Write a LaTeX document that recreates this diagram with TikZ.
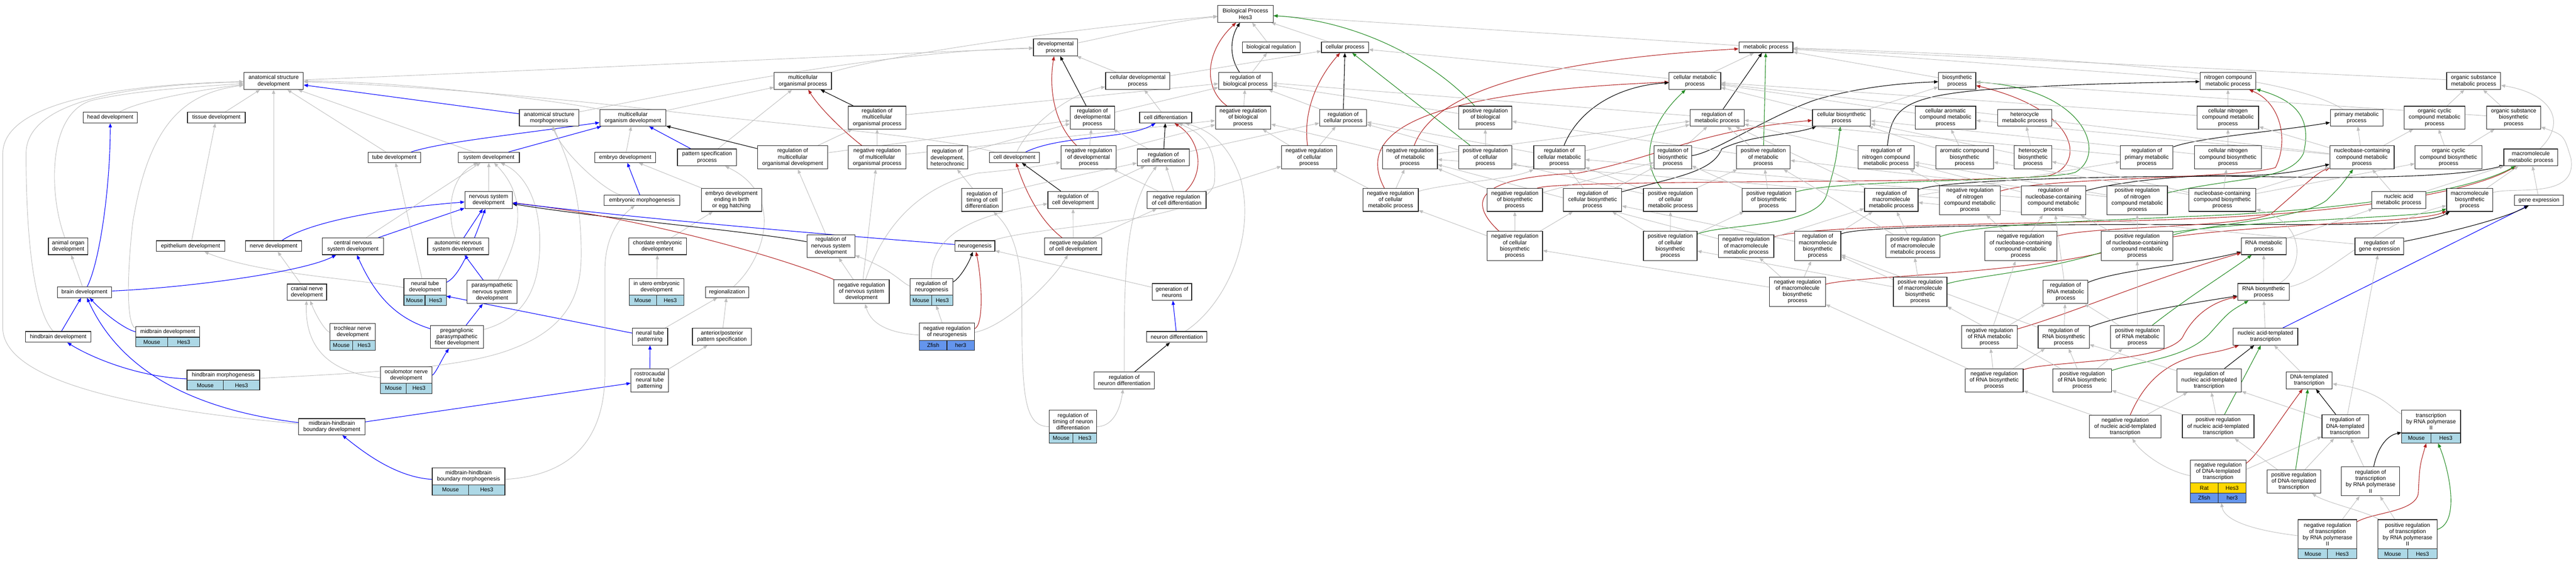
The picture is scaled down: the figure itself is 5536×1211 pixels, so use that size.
\documentclass[tikz,border=0pt]{standalone}
\usepackage{fontspec}
\setmainfont{Liberation Sans}
\usetikzlibrary{arrows.meta}
\definecolor{eg}{RGB}{190,190,190}
\definecolor{nrc}{RGB}{178,34,34}
\definecolor{prc}{RGB}{34,139,34}
\definecolor{lb}{RGB}{173,216,230}
\definecolor{cf}{RGB}{100,149,237}
\definecolor{gd}{RGB}{255,215,0}
\pgfdeclarelayer{bg}
\pgfsetlayers{bg,main}
\tikzset{
 box/.style={draw=black!85,fill=white,line width=1.3pt,align=center,inner sep=1.5pt,font=\fontsize{12}{13.5}\selectfont},
 cell/.style={draw=black!85,line width=1.3pt,inner sep=0pt,font=\fontsize{12}{13.5}\selectfont},
 tip/.style={-{Triangle[length=9pt,width=7pt]}},
 isa/.style={tip,draw=eg,line width=1pt},
 prt/.style={tip,draw=blue,line width=1.2pt},
 rgl/.style={tip,draw=black,line width=1.2pt},
 ngr/.style={tip,draw=nrc,line width=1.2pt},
 pgr/.style={tip,draw=prc,line width=1.2pt}
}
\newcommand\NB[6]{\node[box,minimum width={#4-#2},minimum height={#5-#3}] (#1) at ({(#2+#4)/2},{(#3+#5)/2}) {#6};}
\newcommand\NC[6]{\node[cell,fill=#5,minimum width={#3-#1},minimum height={#4-#2}] at ({(#1+#3)/2},{(#2+#4)/2}) {#6};}
\newcommand\NF[5]{\node[inner sep=0pt,outer sep=0pt,minimum width={#4-#2},minimum height={#5-#3}] (#1) at ({(#2+#4)/2},{(#3+#5)/2}) {};}
\newcommand\NT[7]{\NB{#1t}{#2}{#3}{#5}{#4}{#7}\NC{#2}{#4}{(#2+#5)/2}{#6}{lb}{Mouse}\NC{(#2+#5)/2}{#4}{#5}{#6}{lb}{Hes3}\NF{#1}{#2}{#3}{#5}{#6}}
\newcommand\ED[3]{\draw[#1] (#2) -- (#3);}
\begin{document}
\begin{tikzpicture}[x=1pt,y=-1pt]
\path[use as bounding box] (0,0) rectangle (5536,1211);
% ---------- nodes: left
\NB{asd}{524}{156}{652}{192}{anatomical structure\\development}
\NB{headdev}{179}{241}{295}{264}{head development}
\NB{tissdev}{403}{241}{527}{264}{tissue development}
\NB{tubedev}{791}{327}{904}{349}{tube development}
\NB{aodev}{104}{511}{189}{547}{animal organ\\development}
\NB{epidev}{336}{517}{483}{540}{epithelium development}
\NB{nervedev}{528}{517}{648}{540}{nerve development}
\NB{cnsdev}{693}{511}{824}{547}{central nervous\\system development}
\NB{braindev}{123}{616}{240}{639}{brain development}
\NB{hbdev}{55}{712}{195}{735}{hindbrain development}
\NT{mbdev}{292}{701}{724}{429}{745}{midbrain development}
\NT{hbmorph}{402}{795}{817}{558}{838}{hindbrain morphogenesis}
\NB{cndev}{617}{610}{702}{645}{cranial nerve\\development}
\NT{trochdev}{709}{695}{731}{807}{752}{trochlear nerve\\development}
\NT{oculdev}{818}{788}{823}{928}{845}{oculomotor nerve\\development}
\NB{mhbdev}{642}{899}{784}{934}{midbrain-hindbrain\\boundary development}
\NT{ntdev}{868}{598}{634}{959}{656}{neural tube\\development}
\NB{mop}{1664}{156}{1787}{192}{multicellular\\organismal process}
\NB{asm}{1116}{235}{1244}{271}{anatomical structure\\morphogenesis}
\NB{mod}{1289}{235}{1431}{271}{multicellular\\organism development}
\NB{sysdev}{985}{327}{1116}{349}{system development}
\NB{embdev}{1278}{327}{1409}{349}{embryo development}
\NB{psp}{1456}{320}{1583}{356}{pattern specification\\process}
\NB{regmod}{1628}{313}{1779}{363}{regulation of\\multicellular\\organismal development}
\NB{nsd}{999}{411}{1101}{448}{nervous system\\development}
\NB{embmorph}{1298}{419}{1461}{441}{embryonic morphogenesis}
\NB{edebh}{1507}{405}{1637}{454}{embryo development\\ending in birth\\or egg hatching}
\NB{ansdev}{919}{511}{1050}{547}{autonomic nervous\\system development}
\NB{chordev}{1351}{511}{1475}{547}{chordate embryonic\\development}
\NB{regnsd}{1734}{504}{1837}{553}{regulation of\\nervous system\\development}
\NB{psnsd}{1004}{602}{1111}{652}{parasympathetic\\nervous system\\development}
\NT{iued}{1352}{598}{634}{1470}{656}{in utero embryonic\\development}
\NB{regionz}{1516}{616}{1609}{639}{regionalization}
\NB{nrnsd}{1792}{601}{1911}{652}{negative regulation\\of nervous system\\development}
\NB{ppfd}{925}{699}{1039}{748}{preganglionic\\parasympathetic\\fiber development}
\NB{ntpat}{1359}{705}{1435}{741}{neural tube\\patterning}
\NB{appsp}{1488}{705}{1615}{741}{anterior/posterior\\pattern specification}
\NB{rntp}{1356}{792}{1437}{842}{rostrocaudal\\neural tube\\patterning}
\NT{mhbmorph}{929}{1005}{1041}{1085}{1063}{midbrain-hindbrain\\boundary morphogenesis}
% ---------- nodes: center
\NB{bp}{2617}{12}{2736}{48}{Biological Process\\Hes3}
\NB{devproc}{2221}{84}{2316}{120}{developmental\\process}
\NB{bioreg}{2670}{90}{2794}{113}{biological regulation}
\NB{cdp}{2376}{156}{2514}{192}{cellular developmental\\process}
\NB{rbp}{2619}{156}{2734}{192}{regulation of\\biological process}
\NB{rmop}{1823}{228}{1947}{277}{regulation of\\multicellular\\organismal process}
\NB{rdp}{2300}{228}{2395}{277}{regulation of\\developmental\\process}
\NB{celldiff}{2449}{241}{2561}{264}{cell differentiation}
\NB{nrbp}{2612}{228}{2731}{277}{negative regulation\\of biological\\process}
\NB{nrmop}{1823}{313}{1947}{363}{negative regulation\\of multicellular\\organismal process}
\NB{rdh}{1992}{313}{2080}{363}{regulation of\\development,\\heterochronic}
\NB{celldev}{2126}{327}{2234}{349}{cell development}
\NB{nrdp}{2280}{313}{2399}{363}{negative regulation\\of developmental\\process}
\NB{rcd}{2444}{320}{2556}{356}{regulation of\\cell differentiation}
\NB{rtcd}{2067}{405}{2154}{454}{regulation of\\timing of cell\\differentiation}
\NB{rcdev}{2252}{411}{2360}{448}{regulation of\\cell development}
\NB{nrcd}{2465}{411}{2592}{448}{negative regulation\\of cell differentiation}
\NB{neurog}{2052}{517}{2138}{540}{neurogenesis}
\NB{nrcdev}{2245}{511}{2368}{547}{negative regulation\\of cell development}
\NT{rneurog}{1956}{598}{634}{2048}{656}{regulation of\\neurogenesis}
\NB{genneur}{2476}{609}{2561}{645}{generation of\\neurons}
\NB{nrneurogt}{1976}{694}{2094}{731}{negative regulation\\of neurogenesis}
\NC{1976}{731}{2035}{752}{cf}{Zfish}
\NC{2035}{731}{2094}{752}{cf}{her3}
\NF{nrneurog}{1976}{694}{2094}{752}
\NB{neurdiff}{2464}{712}{2594}{735}{neuron differentiation}
\NB{rnd}{2351}{799}{2481}{835}{regulation of\\neuron differentiation}
\NT{rtnd}{2255}{881}{930}{2357}{952}{regulation of\\timing of neuron\\differentiation}
% ---------- nodes: metabolic
\NB{cellproc}{2840}{90}{2941}{113}{cellular process}
\NB{cmp}{3587}{156}{3698}{192}{cellular metabolic\\process}
\NB{rcp}{2836}{235}{2937}{271}{regulation of\\cellular process}
\NB{prbp}{3135}{228}{3249}{277}{positive regulation\\of biological\\process}
\NB{rmp}{3632}{235}{3748}{271}{regulation of\\metabolic process}
\NB{nrcp}{2754}{313}{2873}{363}{negative regulation\\of cellular\\process}
\NB{nrmp}{2971}{313}{3089}{363}{negative regulation\\of metabolic\\process}
\NB{prcp}{3135}{313}{3249}{363}{positive regulation\\of cellular\\process}
\NB{rcmp}{3296}{313}{3406}{363}{regulation of\\cellular metabolic\\process}
\NB{rbsp}{3555}{313}{3635}{363}{regulation of\\biosynthetic\\process}
\NB{nrcmp}{2929}{405}{3048}{454}{negative regulation\\of cellular\\metabolic process}
\NB{nrbsp}{3196}{405}{3315}{454}{negative regulation\\of biosynthetic\\process}
\NB{rcbsp}{3360}{405}{3485}{454}{regulation of\\cellular biosynthetic\\process}
\NB{prcmp}{3532}{405}{3648}{454}{positive regulation\\of cellular\\metabolic process}
\NB{nrcbsp}{3196}{497}{3315}{560}{negative regulation\\of cellular\\biosynthetic\\process}
\NB{prcbsp}{3532}{497}{3647}{560}{positive regulation\\of cellular\\biosynthetic\\process}
\NB{metproc}{3737}{90}{3853}{113}{metabolic process}
\NB{bsp}{4166}{156}{4246}{192}{biosynthetic\\process}
\NB{cbsp}{3895}{235}{4020}{271}{cellular biosynthetic\\process}
\NB{cacmp}{4116}{228}{4246}{277}{cellular aromatic\\compound metabolic\\process}
\NB{hetmp}{4293}{235}{4409}{271}{heterocycle\\metabolic process}
\NB{prmp}{3732}{313}{3847}{363}{positive regulation\\of metabolic\\process}
\NB{rncmp}{3993}{313}{4114}{363}{regulation of\\nitrogen compound\\metabolic process}
\NB{acbsp}{4160}{313}{4284}{363}{aromatic compound\\biosynthetic\\process}
\NB{hetbsp}{4329}{313}{4409}{363}{heterocycle\\biosynthetic\\process}
\NB{rpmp}{4557}{313}{4670}{363}{regulation of\\primary metabolic\\process}
\NB{prbsp}{3744}{405}{3859}{454}{positive regulation\\of biosynthetic\\process}
\NB{rmmp}{4007}{405}{4122}{454}{regulation of\\macromolecule\\metabolic process}
\NB{nrncmp}{4168}{399}{4299}{461}{negative regulation\\of nitrogen\\compound metabolic\\process}
\NB{rnbcmp}{4344}{399}{4482}{461}{regulation of\\nucleobase-containing\\compound metabolic\\process}
\NB{prncmp}{4528}{399}{4658}{461}{positive regulation\\of nitrogen\\compound metabolic\\process}
\NB{nrmmp}{3693}{504}{3812}{553}{negative regulation\\of macromolecule\\metabolic process}
\NB{rmbsp}{3857}{497}{3956}{560}{regulation of\\macromolecule\\biosynthetic\\process}
\NB{prmmp}{4053}{504}{4169}{553}{positive regulation\\of macromolecule\\metabolic process}
\NB{nrnbcmp}{4265}{497}{4420}{560}{negative regulation\\of nucleobase-containing\\compound metabolic\\process}
\NB{prnbcmp}{4516}{497}{4670}{560}{positive regulation\\of nucleobase-containing\\compound metabolic\\process}
\NB{nrmbsp}{3803}{595}{3923}{658}{negative regulation\\of macromolecule\\biosynthetic\\process}
\NB{prmbsp}{4069}{595}{4184}{658}{positive regulation\\of macromolecule\\biosynthetic\\process}
\NB{rrnamp}{4391}{602}{4487}{652}{regulation of\\RNA metabolic\\process}
\NB{nrrnamp}{4216}{699}{4335}{748}{negative regulation\\of RNA metabolic\\process}
\NB{rrnabsp}{4380}{699}{4490}{748}{regulation of\\RNA biosynthetic\\process}
\NB{prrnamp}{4536}{699}{4651}{748}{positive regulation\\of RNA metabolic\\process}
\NB{nrrnabsp}{4223}{792}{4348}{842}{negative regulation\\of RNA biosynthetic\\process}
\NB{prrnabsp}{4412}{792}{4538}{842}{positive regulation\\of RNA biosynthetic\\process}
\NB{nrnatt}{4490}{892}{4644}{941}{negative regulation\\of nucleic acid-templated\\transcription}
\NB{ncmp}{4728}{156}{4848}{192}{nitrogen compound\\metabolic process}
\NB{osmp}{5258}{156}{5374}{192}{organic substance\\metabolic process}
\NB{cncmp}{4722}{228}{4854}{277}{cellular nitrogen\\compound metabolic\\process}
\NB{pmp}{5008}{235}{5121}{271}{primary metabolic\\process}
\NB{occmp}{5167}{228}{5297}{277}{organic cyclic\\compound metabolic\\process}
\NB{osbsp}{5344}{228}{5460}{277}{organic substance\\biosynthetic\\process}
\NB{cncbsp}{4716}{313}{4860}{363}{cellular nitrogen\\compound biosynthetic\\process}
\NB{nbcmp}{5007}{313}{5145}{363}{nucleobase-containing\\compound metabolic\\process}
\NB{occbsp}{5190}{313}{5334}{363}{organic cyclic\\compound biosynthetic\\process}
\NB{mmp}{5381}{320}{5497}{356}{macromolecule\\metabolic process}
\NB{nbcbsp}{4704}{405}{4848}{454}{nucleobase-containing\\compound biosynthetic\\process}
\NB{namp}{5097}{411}{5213}{448}{nucleic acid\\metabolic process}
\NB{mbsp}{5258}{405}{5357}{454}{macromolecule\\biosynthetic\\process}
\NB{geneexp}{5404}{419}{5509}{441}{gene expression}
\NB{rnamp}{4817}{511}{4913}{547}{RNA metabolic\\process}
\NB{rgeneexp}{5061}{511}{5166}{547}{regulation of\\gene expression}
\NB{rnabsp}{4809}{609}{4920}{645}{RNA biosynthetic\\process}
\NB{natt}{4799}{705}{4938}{741}{nucleic acid-templated\\transcription}
\NB{rnatt}{4678}{792}{4817}{842}{regulation of\\nucleic acid-templated\\transcription}
\NB{dtt}{4913}{799}{5012}{835}{DNA-templated\\transcription}
\NB{prnatt}{4690}{891}{4844}{941}{positive regulation\\of nucleic acid-templated\\transcription}
\NB{rdtt}{4990}{891}{5090}{941}{regulation of\\DNA-templated\\transcription}
\NT{trp2}{5161}{881}{930}{5288}{952}{transcription\\by RNA polymerase\\II}
\NB{nrdttt}{4707}{988}{4827}{1037}{negative regulation\\of DNA-templated\\transcription}
\NC{4707}{1037}{4767}{1059}{gd}{Rat}
\NC{4767}{1037}{4827}{1059}{gd}{Hes3}
\NC{4707}{1059}{4767}{1080}{cf}{Zfish}
\NC{4767}{1059}{4827}{1080}{cf}{her3}
\NF{nrdtt}{4707}{988}{4827}{1080}
\NB{prdtt}{4872}{1009}{4987}{1059}{positive regulation\\of DNA-templated\\transcription}
\NB{rtrp2}{5032}{1003}{5157}{1065}{regulation of\\transcription\\by RNA polymerase\\II}
\NT{nrtrp2}{4939}{1116}{1179}{5065}{1200}{negative regulation\\of transcription\\by RNA polymerase\\II}
\NT{prtrp2}{5110}{1116}{1179}{5238}{1200}{positive regulation\\of transcription\\by RNA polymerase\\II}
% ---------- edges
\begin{pgfonlayer}{bg}
\fill[white] (0,0) rectangle (5536,1211);
% top
\draw[isa] (devproc) .. controls (2400,75) and (2520,45) .. (bp);
\ED{isa}{bioreg}{bp}
\ED{isa}{cellproc}{bp}
\draw[isa] (mop) .. controls (1900,120) and (2300,60) .. (bp);
\ED{isa}{metproc}{bp}
\draw[rgl] (rbp) .. controls (2640,120) and (2645,80) .. (bp);
\ED{isa}{rbp}{bioreg}
\draw[ngr] (nrbp) .. controls (2585,190) and (2590,110) .. (bp);
\ED{isa}{nrbp}{rbp}
\draw[pgr] (prbp) .. controls (3080,130) and (2920,45) .. (bp);
\ED{isa}{prbp}{rbp}
% anatomy
\draw[isa] (asd) .. controls (1200,150) and (1900,115) .. (devproc);
\draw[isa] (asm) .. controls (1500,190) and (1900,110) .. (devproc);
\ED{isa}{mod}{mop}
\draw[isa] (mod) .. controls (1250,225) and (900,175) .. (asd);
\ED{prt}{asm}{asd}
\ED{prt}{sysdev}{mod}
\ED{isa}{sysdev}{asd}
\ED{isa}{tubedev}{asd}
\draw[prt] (tubedev) .. controls (950,305) and (1100,290) .. (mod);
\draw[isa] (headdev) .. controls (300,215) and (450,190) .. (asd);
\ED{isa}{tissdev}{asd}
\draw[isa] (aodev) .. controls (105,420) and (100,240) .. (200,215) .. controls (300,192) and (450,185) .. (asd);
\ED{isa}{epidev}{tissdev}
\ED{isa}{nervedev}{asd}
\draw[prt] (nervedev) .. controls (660,480) and (800,450) .. (nsd);
\ED{prt}{cnsdev}{nsd}
\ED{isa}{cnsdev}{sysdev}
\ED{isa}{nsd}{sysdev}
\ED{isa}{embdev}{mod}
\ED{prt}{psp}{mod}
\ED{isa}{psp}{mop}
\ED{rgl}{regmod}{mod}
\ED{isa}{regmod}{rmop}
\ED{isa}{regmod}{rdp}
\draw[ngr] (nrmop) .. controls (1810,280) and (1760,230) .. (mop);
\ED{rgl}{rmop}{mop}
\ED{isa}{rmop}{rbp}
\ED{isa}{nrmop}{rmop}
\ED{isa}{nrmop}{nrbp}
\ED{prt}{embmorph}{embdev}
\draw[isa] (embmorph) .. controls (1300,410) and (1210,330) .. (asm);
\ED{isa}{edebh}{embdev}
\ED{isa}{chordev}{edebh}
\ED{isa}{iued}{chordev}
\ED{prt}{ansdev}{nsd}
\draw[isa] (ansdev) .. controls (960,460) and (965,380) .. (sysdev);
\ED{prt}{psnsd}{ansdev}
\draw[isa] (psnsd) .. controls (1100,540) and (1150,440) .. (sysdev);
\ED{prt}{ppfd}{psnsd}
\draw[isa] (ppfd) .. controls (1140,680) and (1160,600) .. (1160,520) .. controls (1160,420) and (1120,370) .. (sysdev);
\draw[isa] (oculdev) .. controls (700,800) and (655,740) .. (cndev);
\draw[prt] (oculdev) .. controls (935,805) and (950,770) .. (ppfd);
\draw[isa] (trochdev) .. controls (700,712) and (680,680) .. (cndev);
\ED{isa}{cndev}{nervedev}
\ED{isa}{ntdev}{tubedev}
\draw[isa] (ntdev) .. controls (780,600) and (560,590) .. (epidev);
\draw[prt] (ntdev) .. controls (985,595) and (1010,540) .. (nsd);
\draw[prt] (ppfd) .. controls (840,680) and (800,620) .. (cnsdev);
\ED{prt}{ntpat}{ntdev}
\draw[prt] (braindev) .. controls (215,560) and (237,400) .. (headdev);
\draw[prt] (braindev) .. controls (400,618) and (650,585) .. (cnsdev);
\ED{isa}{braindev}{aodev}
\ED{prt}{hbdev}{braindev}
\draw[isa] (hbdev) .. controls (60,650) and (56,420) .. (56,330) .. controls (56,210) and (300,182) .. (asd);
\draw[prt] (mbdev) .. controls (275,710) and (230,680) .. (braindev);
\draw[isa] (mbdev) .. controls (272,700) and (272,600) .. (285,480) .. controls (320,260) and (400,200) .. (asd);
\draw[prt] (hbmorph) .. controls (300,810) and (200,770) .. (hbdev);
\draw[isa] (hbmorph) .. controls (800,800) and (1000,790) .. (1104,748) .. controls (1230,700) and (1250,620) .. (1249,540) .. controls (1249,400) and (1210,320) .. (asm);
\draw[prt] (mhbdev) .. controls (420,880) and (260,800) .. (braindev);
\draw[isa] (mhbdev) .. controls (300,880) and (0,820) .. (6,700) -- (6,330) .. controls (6,210) and (300,180) .. (asd);
\ED{prt}{mhbdev}{rntp}
\draw[prt] (mhbmorph) .. controls (850,1025) and (780,970) .. (mhbdev);
\draw[isa] (mhbmorph) .. controls (1250,1020) and (1300,920) .. (1300,800) -- (1300,580) .. controls (1300,500) and (1340,460) .. (embmorph);
\ED{isa}{ntpat}{regionz}
\ED{prt}{rntp}{ntpat}
\ED{isa}{rntp}{appsp}
\ED{isa}{appsp}{regionz}
\draw[isa] (regionz) .. controls (1640,560) and (1690,420) .. (psp);
\draw[rgl] (regnsd) .. controls (1600,495) and (1300,470) .. (nsd);
\ED{isa}{regnsd}{regmod}
\draw[ngr] (nrnsd) .. controls (1700,560) and (1400,470) .. (nsd);
\ED{isa}{nrnsd}{regnsd}
\ED{isa}{nrnsd}{nrmop}
\draw[isa] (nrnsd) .. controls (1900,480) and (1980,400) .. (2100,372) .. controls (2200,362) .. (nrdp);
\draw[prt] (neurog) .. controls (1600,490) and (1300,460) .. (nsd);
\draw[rgl] (rneurog) .. controls (2060,600) and (2080,570) .. (neurog);
\draw[isa] (rneurog) .. controls (1940,610) and (1920,580) .. (regnsd);
\draw[isa] (rneurog) .. controls (2000,500) and (2100,460) .. (rcdev);
\draw[ngr] (nrneurog) .. controls (2115,700) and (2110,600) .. (neurog);
\ED{isa}{nrneurog}{rneurog}
\draw[isa] (nrneurog) .. controls (1900,715) and (1870,690) .. (nrnsd);
\draw[isa] (nrneurog) .. controls (2150,705) and (2250,620) .. (nrcdev);
\draw[isa] (neurog) .. controls (2250,480) and (2600,480) .. (2610,390) .. controls (2615,320) and (2590,290) .. (celldiff);
\ED{isa}{genneur}{neurog}
\ED{prt}{neurdiff}{genneur}
\draw[isa] (neurdiff) .. controls (2640,650) and (2700,500) .. (2665,380) .. controls (2640,310) and (2600,280) .. (celldiff);
\ED{rgl}{rnd}{neurdiff}
\draw[isa] (rnd) .. controls (2416,600) and (2415,450) .. (rcd);
\draw[isa] (rtnd) .. controls (2400,916) and (2410,860) .. (rnd);
\draw[isa] (rtnd) .. controls (2200,916) and (2196,850) .. (2196,650) .. controls (2196,520) and (2160,480) .. (rtcd);
\draw[isa] (celldev) .. controls (2210,270) and (2300,200) .. (cdp);
\draw[prt] (celldev) .. controls (2280,290) and (2420,300) .. (celldiff);
\draw[isa] (celldev) .. controls (2000,290) and (1700,270) .. (1400,235) .. controls (1100,200) and (800,180) .. (asd);
\ED{rgl}{rcdev}{celldev}
\ED{isa}{rcdev}{rcd}
\draw[ngr] (nrcdev) .. controls (2230,470) and (2200,400) .. (celldev);
\ED{isa}{nrcdev}{rcdev}
\ED{isa}{nrcdev}{nrcd}
\ED{isa}{celldiff}{cdp}
\ED{isa}{cdp}{devproc}
\ED{isa}{cdp}{cellproc}
\ED{rgl}{rcd}{celldiff}
\ED{isa}{rcd}{rdp}
\ED{isa}{rcd}{rcp}
\draw[ngr] (nrcd) .. controls (2590,370) and (2580,300) .. (celldiff);
\ED{isa}{nrcd}{rcd}
\ED{isa}{nrcd}{nrdp}
\ED{isa}{nrcd}{nrcp}
\ED{rgl}{rdp}{devproc}
\ED{isa}{rdp}{rbp}
\draw[ngr] (nrdp) .. controls (2260,260) and (2255,180) .. (devproc);
\ED{isa}{nrdp}{rdp}
\ED{isa}{nrdp}{nrbp}
\ED{isa}{rdh}{rdp}
\draw[isa] (rtcd) .. controls (2200,400) and (2350,370) .. (rcd);
\ED{isa}{rtcd}{rdh}
% cellular / metabolic
\ED{rgl}{rcp}{cellproc}
\ED{isa}{rcp}{rbp}
\draw[ngr] (nrcp) .. controls (2800,240) and (2830,170) .. (cellproc);
\ED{isa}{nrcp}{rcp}
\ED{isa}{nrcp}{nrbp}
\ED{pgr}{prcp}{cellproc}
\ED{isa}{prcp}{prbp}
\ED{isa}{prcp}{rcp}
\draw[ngr] (nrmp) .. controls (3080,200) and (3300,130) .. (metproc);
\ED{isa}{nrmp}{rmp}
\ED{isa}{nrmp}{nrbp}
\draw[ngr] (nrcmp) .. controls (2920,300) and (3000,200) .. (cmp);
\ED{isa}{nrcmp}{nrmp}
\ED{isa}{nrcmp}{nrcp}
\draw[isa] (nrcmp) .. controls (3100,395) and (3250,385) .. (rcmp);
\draw[rgl] (rcmp) .. controls (3390,240) and (3470,185) .. (cmp);
\ED{isa}{rcmp}{rmp}
\ED{isa}{rcmp}{rcp}
\draw[pgr] (prcmp) .. controls (3520,340) and (3550,260) .. (cmp);
\ED{isa}{prcmp}{prcp}
\ED{isa}{prcmp}{rcmp}
\ED{isa}{prcmp}{prmp}
\draw[ngr] (nrbsp) .. controls (3340,385) and (4200,395) .. (4400,378) .. controls (4480,360) and (4480,240) .. (bsp);
\ED{isa}{nrbsp}{nrmp}
\ED{isa}{nrbsp}{rbsp}
\draw[rgl] (rcbsp) .. controls (3600,380) and (3680,370) .. (3700,320) .. controls (3760,290) and (3850,290) .. (cbsp);
\ED{isa}{rcbsp}{rcmp}
\ED{isa}{rcbsp}{rbsp}
\draw[rgl] (rbsp) .. controls (3680,330) and (3800,250) .. (3900,215) .. controls (4000,185) and (4100,178) .. (bsp);
\ED{isa}{rbsp}{rmp}
\draw[ngr] (nrcbsp) .. controls (3140,420) and (3200,380) .. (3390,372) .. controls (3560,340) and (3650,280) .. (cbsp);
\ED{isa}{nrcbsp}{nrcmp}
\ED{isa}{nrcbsp}{nrbsp}
\ED{isa}{nrcbsp}{rcbsp}
\draw[pgr] (prcbsp) .. controls (3700,480) and (3900,490) .. (3925,420) .. controls (3945,350) .. (cbsp);
\ED{isa}{prcbsp}{prcmp}
\ED{isa}{prcbsp}{rcbsp}
\ED{isa}{prcbsp}{prbsp}
\ED{isa}{cmp}{metproc}
\ED{isa}{cmp}{cellproc}
\ED{rgl}{rmp}{metproc}
\ED{isa}{rmp}{rbp}
\ED{pgr}{prmp}{metproc}
\ED{isa}{prmp}{rmp}
\ED{isa}{prmp}{prbp}
\ED{isa}{bsp}{metproc}
\ED{isa}{cbsp}{bsp}
\ED{isa}{cbsp}{cmp}
\ED{isa}{cacmp}{cmp}
\ED{isa}{hetmp}{cmp}
\draw[rgl] (rncmp) .. controls (4065,230) and (4090,205) .. (4300,190) .. controls (4500,180) .. (ncmp);
\ED{isa}{rncmp}{rmp}
\ED{isa}{acbsp}{cacmp}
\ED{isa}{acbsp}{cbsp}
\ED{isa}{hetbsp}{hetmp}
\ED{isa}{hetbsp}{cbsp}
\draw[rgl] (rpmp) .. controls (4720,296) and (4910,280) .. (pmp);
\ED{isa}{rpmp}{rmp}
\draw[pgr] (prbsp) .. controls (3950,385) and (4400,390) .. (4460,370) .. controls (4530,330) and (4480,190) .. (bsp);
\ED{isa}{prbsp}{prmp}
\ED{isa}{prbsp}{rbsp}
\draw[rgl] (rmmp) .. controls (4180,385) and (4600,375) .. (4900,380) .. controls (5200,385) and (5330,370) .. (mmp);
\ED{isa}{rmmp}{rpmp}
\ED{isa}{rmmp}{rmp}
\draw[ngr] (nrncmp) .. controls (4400,380) and (4800,385) .. (4890,360) .. controls (4920,300) and (4900,220) .. (ncmp);
\ED{isa}{nrncmp}{rncmp}
\ED{isa}{nrncmp}{nrmp}
\draw[rgl] (rnbcmp) .. controls (4550,390) and (4700,375) .. (4800,377) .. controls (4900,378) and (4950,365) .. (nbcmp);
\ED{isa}{rnbcmp}{rncmp}
\ED{isa}{rnbcmp}{rcmp}
\draw[pgr] (prncmp) .. controls (4800,380) and (4920,390) .. (4950,330) .. controls (4970,250) and (4930,215) .. (ncmp);
\ED{isa}{prncmp}{rncmp}
\ED{isa}{prncmp}{prmp}
\draw[ngr] (nrmmp) .. controls (3900,480) and (4500,480) .. (4700,470) .. controls (5000,460) and (5300,420) .. (mmp);
\ED{isa}{nrmmp}{nrmp}
\ED{isa}{nrmmp}{rmmp}
\draw[rgl] (rmbsp) .. controls (4000,480) and (4600,482) .. (4900,482) .. controls (5150,484) and (5230,475) .. (mbsp);
\ED{isa}{rmbsp}{rmmp}
\ED{isa}{rmbsp}{rcbsp}
\draw[pgr] (prmmp) .. controls (4250,480) and (4500,475) .. (4700,465) .. controls (5000,455) and (5300,415) .. (mmp);
\ED{isa}{prmmp}{rmmp}
\ED{isa}{prmmp}{prmp}
\draw[ngr] (nrnbcmp) .. controls (4500,485) and (4800,490) .. (4880,460) .. controls (4950,400) and (4980,370) .. (nbcmp);
\ED{isa}{nrnbcmp}{rnbcmp}
\ED{isa}{nrnbcmp}{nrncmp}
\draw[pgr] (prnbcmp) .. controls (4750,480) and (4950,470) .. (5000,430) .. controls (5030,400) .. (nbcmp);
\ED{isa}{prnbcmp}{rnbcmp}
\ED{isa}{prnbcmp}{prncmp}
\draw[ngr] (nrmbsp) .. controls (4000,590) and (4400,590) .. (4600,520) .. controls (4800,480) and (5200,480) .. (mbsp);
\ED{isa}{nrmbsp}{nrmmp}
\ED{isa}{nrmbsp}{rmbsp}
\ED{isa}{nrmbsp}{nrcbsp}
\draw[pgr] (prmbsp) .. controls (4250,590) and (4450,580) .. (4600,510) .. controls (4800,470) and (5200,470) .. (mbsp);
\ED{isa}{prmbsp}{prmmp}
\ED{isa}{prmbsp}{rmbsp}
\ED{isa}{prmbsp}{prcbsp}
\draw[rgl] (rrnamp) .. controls (4550,580) and (4700,570) .. (rnamp);
\ED{isa}{rrnamp}{rnbcmp}
\draw[ngr] (nrrnamp) .. controls (4450,674) and (4620,600) .. (rnamp);
\ED{isa}{nrrnamp}{rrnamp}
\ED{isa}{nrrnamp}{nrnbcmp}
\draw[rgl] (rrnabsp) .. controls (4550,680) and (4650,660) .. (rnabsp);
\ED{isa}{rrnabsp}{rrnamp}
\ED{isa}{rrnabsp}{rmbsp}
\draw[pgr] (prrnamp) .. controls (4700,640) and (4780,590) .. (rnamp);
\ED{isa}{prrnamp}{rrnamp}
\ED{isa}{prrnamp}{prnbcmp}
\draw[ngr] (nrrnabsp) .. controls (4400,775) and (4650,780) .. (4690,725) .. controls (4720,665) and (4770,645) .. (rnabsp);
\ED{isa}{nrrnabsp}{nrrnamp}
\ED{isa}{nrrnabsp}{rrnabsp}
\ED{isa}{nrrnabsp}{nrmbsp}
\draw[pgr] (prrnabsp) .. controls (4600,775) and (4700,770) .. (4750,715) .. controls (4790,670) .. (rnabsp);
\ED{isa}{prrnabsp}{prrnamp}
\ED{isa}{prrnabsp}{rrnabsp}
\ED{isa}{prrnabsp}{prmbsp}
\draw[ngr] (nrnatt) .. controls (4600,840) and (4640,780) .. (4730,762) .. controls (4780,752) .. (natt);
\ED{isa}{nrnatt}{nrrnabsp}
\ED{isa}{nrnatt}{rnatt}
\ED{rgl}{rnatt}{natt}
\ED{isa}{rnatt}{rrnabsp}
\ED{pgr}{prnatt}{natt}
\ED{isa}{prnatt}{rnatt}
\ED{isa}{prnatt}{prrnabsp}
\ED{isa}{natt}{rnabsp}
\ED{prt}{natt}{geneexp}
\ED{isa}{dtt}{natt}
\ED{rgl}{rdtt}{dtt}
\ED{isa}{rdtt}{rnatt}
\ED{isa}{rdtt}{rgeneexp}
\draw[isa] (trp2) .. controls (5140,880) and (5120,840) .. (dtt);
\draw[ngr] (nrdtt) .. controls (4850,980) and (4900,900) .. (dtt);
\ED{isa}{nrdtt}{rdtt}
\draw[isa] (nrdtt) .. controls (4650,1010) and (4600,970) .. (nrnatt);
\ED{pgr}{prdtt}{dtt}
\ED{isa}{prdtt}{rdtt}
\ED{isa}{prdtt}{prnatt}
\draw[rgl] (rtrp2) .. controls (5110,960) and (5130,935) .. (trp2);
\ED{isa}{rtrp2}{rdtt}
\draw[ngr] (nrtrp2) .. controls (5100,1100) and (5190,1100) .. (5197,1060) .. controls (5200,1000) .. (trp2);
\ED{isa}{nrtrp2}{rtrp2}
\draw[isa] (nrtrp2) .. controls (4850,1140) and (4780,1120) .. (nrdtt);
\draw[pgr] (prtrp2) .. controls (5290,1120) and (5260,1000) .. (trp2);
\ED{isa}{prtrp2}{rtrp2}
\draw[isa] (prtrp2) .. controls (5090,1100) and (5000,1080) .. (prdtt);
\ED{isa}{ncmp}{metproc}
\ED{isa}{osmp}{metproc}
\ED{isa}{cncmp}{ncmp}
\ED{isa}{cncmp}{cmp}
\draw[isa] (pmp) .. controls (4900,150) and (4400,120) .. (metproc);
\ED{isa}{occmp}{osmp}
\ED{isa}{osbsp}{osmp}
\ED{isa}{osbsp}{bsp}
\ED{isa}{cncbsp}{cncmp}
\ED{isa}{cncbsp}{cbsp}
\ED{isa}{nbcmp}{pmp}
\ED{isa}{nbcmp}{cncmp}
\ED{isa}{nbcmp}{occmp}
\ED{isa}{nbcmp}{hetmp}
\ED{isa}{nbcmp}{cacmp}
\ED{isa}{occbsp}{occmp}
\ED{isa}{occbsp}{osbsp}
\draw[isa] (mmp) .. controls (5520,260) and (5480,200) .. (osmp);
\ED{isa}{nbcbsp}{cncbsp}
\ED{isa}{nbcbsp}{nbcmp}
\ED{isa}{nbcbsp}{acbsp}
\ED{isa}{nbcbsp}{hetbsp}
\ED{isa}{nbcbsp}{occbsp}
\ED{isa}{namp}{nbcmp}
\ED{isa}{namp}{mmp}
\ED{isa}{mbsp}{mmp}
\draw[isa] (mbsp) .. controls (5400,400) and (5540,430) .. (5525,340) .. controls (5510,290) .. (osbsp);
\ED{isa}{geneexp}{mmp}
\ED{isa}{rnamp}{namp}
\draw[rgl] (rgeneexp) .. controls (5260,500) and (5380,470) .. (geneexp);
\ED{isa}{rgeneexp}{rmmp}
\ED{isa}{rnabsp}{rnamp}
\draw[isa] (rnabsp) .. controls (4950,580) and (4960,480) .. (nbcbsp);
\draw[isa] (rnabsp) .. controls (5000,600) and (5100,480) .. (mbsp);
\end{pgfonlayer}
\end{tikzpicture}
\end{document}
